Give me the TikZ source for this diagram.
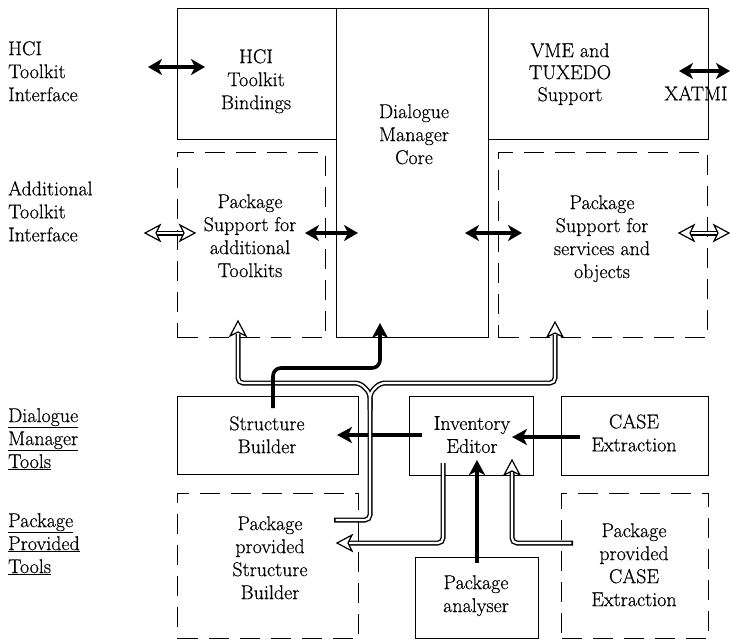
\documentclass[tikz,border=0pt]{standalone}
\usepackage{fontspec}
\setmainfont{Latin Modern Roman}[FakeBold=0.5]
\usetikzlibrary{arrows.meta}
\begin{document}
\begin{tikzpicture}[x=1pt,y=-1pt,
  box/.style={draw, line width=1.3pt, rectangle, inner sep=0pt, anchor=north west},
  dbox/.style={box, dash pattern=on 20pt off 11pt},
  txt/.style={font=\fontsize{20}{23}\selectfont, align=center, inner sep=0pt, anchor=north},
  ltxt/.style={txt, align=left, anchor=north west},
  tarrow/.style={line width=3.6pt, -{Stealth[length=15pt,width=16pt,inset=4pt]}},
  tboth/.style={line width=3.6pt, {Stealth[length=14pt,width=16pt,inset=4pt]}-{Stealth[length=14pt,width=16pt,inset=4pt]}},
  dlo/.style={line width=5pt, black, rounded corners=5pt},
  dli/.style={line width=2.2pt, white, rounded corners=5pt},
  ohead/.pic={\draw[line width=1.2pt, fill=white, line join=miter] (0,0) -- (-15,8) -- (-11,0) -- (-15,-8) -- cycle;}
]
\useasboundingbox (0,0) rectangle (730,641);

% boxes
\node[box, minimum width=159pt, minimum height=131pt] (hci) at (177,8) {};
\node[box, minimum width=152pt, minimum height=329pt] (core) at (336,8) {};
\node[box, minimum width=220pt, minimum height=131pt] (vme) at (488,8) {};
\node[dbox, minimum width=148pt, minimum height=185pt] (psa) at (177,152) {};
\node[dbox, minimum width=209pt, minimum height=185pt] (pss) at (498,152) {};
\node[box, minimum width=181pt, minimum height=78pt] (sb) at (177,396) {};
\node[box, minimum width=124pt, minimum height=79pt] (ie) at (409,396) {};
\node[box, minimum width=147pt, minimum height=79pt] (ce) at (561,396) {};
\node[dbox, minimum width=181pt, minimum height=145pt] (ppsb) at (177,493) {};
\node[box, minimum width=123pt, minimum height=81pt] (pa) at (415,557) {};
\node[dbox, minimum width=147pt, minimum height=145pt] (ppce) at (561,493) {};

% texts
\node[ltxt] (l1) at (8,41) {HCI\\Toolkit\\Interface};
\node[txt] (t1) at (256,49) {HCI\\Toolkit\\Bindings};
\node[txt] (t2) at (414,104) {Dialogue\\Manager\\Core};
\node[txt, font=\fontsize{20}{22}\selectfont] (t3) at (570,43) {VME and\\TUXEDO\\Support};
\node[txt] (xatmi) at (696,86) {XATMI};
\node[ltxt] (l2) at (8,181) {Additional\\Toolkit\\Interface};
\node[txt] (t4) at (250,194) {Package\\Support for\\additional\\Toolkits};
\node[txt] (t5) at (602,195) {Package\\Support for\\services and\\objects};
\node[ltxt] (l3) at (8,408) {\underline{Dialogue}\\\underline{Manager}\\\underline{Tools}};
\node[txt] (t6) at (267,416) {Structure\\Builder};
\node[txt] (t7) at (472,416) {Inventory\\Editor};
\node[txt] (t8) at (634,414) {CASE\\Extraction};
\node[ltxt] (l4) at (8,513) {\underline{Package}\\\underline{Provided}\\\underline{Tools}};
\node[txt] (t9) at (270,516) {Package\\provided\\Structure\\Builder};
\node[txt] (t10) at (634,523) {Package\\provided\\CASE\\Extraction};
\node[txt] (t11) at (476,575) {Package\\analyser};

% coordinates
\coordinate (ief) at (422,435); \coordinate (sbt) at (337,435);
\coordinate (cef) at (580,437); \coordinate (iet) at (512,437);
\coordinate (paf) at (477,563); \coordinate (pat) at (477,460);
\coordinate (sbf) at (273,408); \coordinate (coret) at (380,323);
\coordinate (h1) at (148,67); \coordinate (h2) at (205,67);
\coordinate (x1) at (679,71); \coordinate (x2) at (730,71);
\coordinate (p1) at (305,233); \coordinate (p2) at (358,233);
\coordinate (s1) at (465,233); \coordinate (s2) at (522,233);
\coordinate (jn) at (370,393);
\coordinate (ltip) at (238,321); \coordinate (rtip) at (555,322);
\coordinate (ppsbend) at (334,520);
\coordinate (ieout) at (443,463); \coordinate (ppsbtip) at (337,543);
\coordinate (ppceout) at (573,543); \coordinate (ietip) at (512,460);
\coordinate (ad1) at (145,233); \coordinate (ad2) at (195,233);
\coordinate (sv1) at (679,233); \coordinate (sv2) at (729,233);

% thick arrow crossed by double line
\draw[tarrow] (ief) -- (sbt);

% double lines (outer)
\draw[dlo] ([yshift=-13pt]ltip) -- (238,383) -- (360,383) -- (jn) -- (370,520) -- (ppsbend);
\draw[dlo] ([yshift=-13pt]rtip) -- (555,383) -- (380,383) -- (jn) -- (370,410);
\draw[dlo] (ieout) -- (443,543) -- ([xshift=8pt]ppsbtip);
\draw[dlo] (ppceout) -- (512,543) -- ([yshift=-12pt]ietip);
\draw[dlo] ([xshift=5pt]ad1) -- ([xshift=-5pt]ad2);
\draw[dlo] ([xshift=5pt]sv1) -- ([xshift=-5pt]sv2);
% double lines (inner)
\draw[dli] ([yshift=-13pt]ltip) -- (238,383) -- (360,383) -- (jn) -- (370,520) -- ([xshift=1.6pt]ppsbend);
\draw[dli] ([yshift=-13pt]rtip) -- (555,383) -- (380,383) -- (jn) -- (370,410);
\draw[dli] ([yshift=1.6pt]ieout) -- (443,543) -- ([xshift=8pt]ppsbtip);
\draw[dli] ([xshift=-1.6pt]ppceout) -- (512,543) -- ([yshift=-12pt]ietip);
\draw[dli] ([xshift=5pt]ad1) -- ([xshift=-5pt]ad2);
\draw[dli] ([xshift=5pt]sv1) -- ([xshift=-5pt]sv2);
% open heads
\pic[rotate=90] at (ltip) {ohead};
\pic[rotate=90] at (rtip) {ohead};
\pic[rotate=180] at (ppsbtip) {ohead};
\pic[rotate=90] at (ietip) {ohead};
\pic[rotate=180] at (ad1) {ohead};
\pic at (ad2) {ohead};
\pic[rotate=180] at (sv1) {ohead};
\pic at (sv2) {ohead};

% thick black arrows
\draw[tarrow, rounded corners=8pt] (sbf) -- (273,368) -- (380,368) -- (coret);
\draw[tarrow] (cef) -- (iet);
\draw[tarrow] (paf) -- (pat);
\draw[tboth] (h1) -- (h2);
\draw[tboth] (x1) -- (x2);
\draw[tboth] (p1) -- (p2);
\draw[tboth] (s1) -- (s2);
\end{tikzpicture}
\end{document}
